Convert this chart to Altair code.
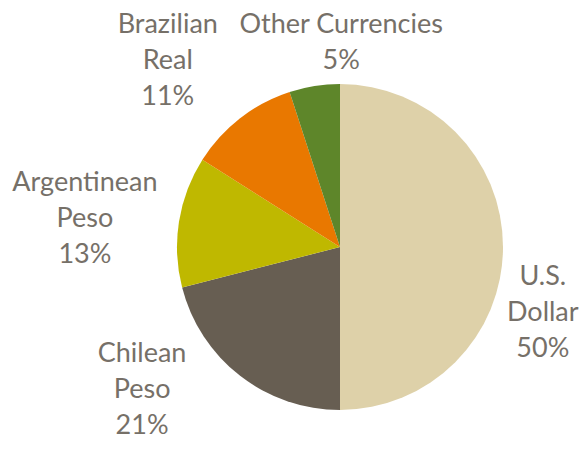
import math
import altair as alt
import pandas as pd

# ---- data ----
currencies = ["U.S. Dollar", "Chilean Peso", "Argentinean Peso", "Brazilian Real", "Other Currencies"]
label_text = ["U.S.\nDollar", "Chilean\nPeso", "Argentinean\nPeso", "Brazilian\nReal", "Other Currencies"]
shares = [50, 21, 13, 11, 5]
colors = ["#DED1A9", "#675E52", "#BFB800", "#E97800", "#5E862A"]

# ---- label layout (polar, around pie centre: angle clockwise from top in degrees, radius px) ----
label_angle_deg = [98.4, 241.6, 284.1, 322.2, 0.3]
label_radius = [205, 225, 263, 281, 222]

df = pd.DataFrame({
    "currency": currencies,
    "share": shares,
    "order": list(range(len(currencies))),
    "label": [f"{t}\n{s}%" for t, s in zip(label_text, shares)],
    "lt": [math.radians(a) for a in label_angle_deg],
    "lr": label_radius,
})

CX, CY, R = 332, 239, 163

base = alt.Chart(df)

pie = base.mark_arc(radius=R, stroke=None).encode(
    theta=alt.Theta("share:Q", stack=True),
    order=alt.Order("order:Q"),
    color=alt.Color("currency:N",
                    scale=alt.Scale(domain=currencies, range=colors),
                    legend=None),
    x=alt.value(CX),
    y=alt.value(CY),
)

labels = base.mark_text(
    font="Lato", fontSize=27, color="#767068", align="center",
    baseline="middle", lineBreak="\n", lineHeight=36,
).encode(
    theta=alt.Theta("lt:Q", scale=None),
    radius=alt.Radius("lr:Q", scale=None),
    text="label:N",
    x=alt.value(CX),
    y=alt.value(CY),
)

chart = alt.layer(pie, labels).resolve_scale(
    theta="independent", radius="independent"
).properties(
    width=571, height=428, padding=0,
    autosize=alt.AutoSizeParams(type="none"),
).configure_view(stroke=None)

chart.save("out.html", embed_options={"renderer": "svg", "actions": False})
